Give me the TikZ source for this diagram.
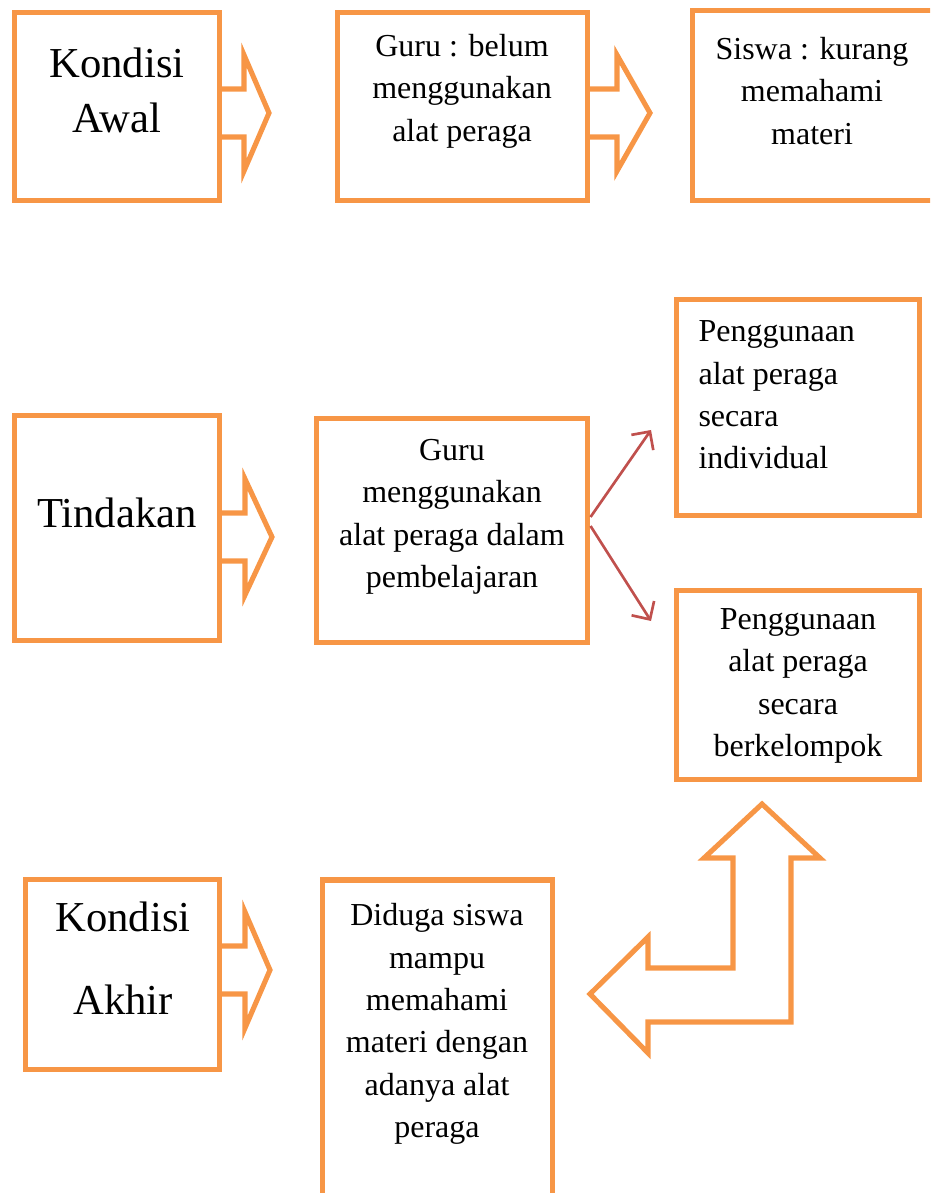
\documentclass[tikz,border=0pt]{standalone}
\usepackage{fontspec}
\setmainfont{Liberation Serif}
\usetikzlibrary{arrows.meta,calc}
\definecolor{bOrange}{HTML}{F79646}
\definecolor{bRed}{HTML}{C0504D}
\tikzset{
  box/.style={draw=bOrange, line width=1.9pt, inner sep=0pt},
  blockarrow/.style={draw=bOrange, line width=1.9pt, line join=miter},
  smalltxt/.style={font=\fontsize{12}{15.9}\selectfont, align=center, inner sep=0pt},
  bigtxt/.style={font=\fontsize{16}{20.6}\selectfont, align=center, inner sep=0pt},
  thinarrow/.style={draw=bRed, line width=1pt, -{Straight Barb[length=5pt,width=10pt]}},
}
\begin{document}
\begin{tikzpicture}[x=0.375pt, y=-0.375pt]
  \useasboundingbox (0,0) rectangle (930,1193);
  \clip (0,0) rectangle (930,1193);

  % boxes
  \node[box, minimum width={205*0.375pt}, minimum height={188*0.375pt}] (awal) at (117,106.5) {};
  \node[box, minimum width={250*0.375pt}, minimum height={188*0.375pt}] (belum) at (462.5,106.5) {};
  \node[box, minimum width={247.5*0.375pt}, minimum height={190*0.375pt}] (siswa) at (816,105.5) {};
  \node[box, minimum width={205*0.375pt}, minimum height={225*0.375pt}] (tindakan) at (117,528) {};
  \node[box, minimum width={271*0.375pt}, minimum height={224*0.375pt}] (guru) at (452,530.5) {};
  \node[box, minimum width={243*0.375pt}, minimum height={216*0.375pt}] (indiv) at (798,407.5) {};
  \node[box, minimum width={243*0.375pt}, minimum height={189*0.375pt}] (kelompok) at (798,685) {};
  \node[box, minimum width={194*0.375pt}, minimum height={190*0.375pt}] (akhir) at (122.5,974.5) {};
  \node[box, minimum width={230*0.375pt}, minimum height={330*0.375pt}] (duga) at (437.5,1045) {};

  % texts
  \node[bigtxt] (awalTxt) at (117,90) {Kondisi\\Awal};
  \node[smalltxt] (belumTxt) at (462,91) {Guru : belum\\menggunakan\\alat peraga};
  \node[smalltxt] (siswaTxt) at (812,91) {Siswa : kurang\\memahami\\materi};
  \node[bigtxt] (tindakanTxt) at (117,513) {Tindakan};
  \node[smalltxt] (guruTxt) at (452,517) {Guru\\menggunakan\\alat peraga dalam\\pembelajaran};
  \node[smalltxt, align=left, anchor=west] (indivTxt) at (698,395) {Penggunaan\\alat peraga\\secara\\individual};
  \node[smalltxt] (kelompokTxt) at (798,686) {Penggunaan\\alat peraga\\secara\\berkelompok};
  \node[bigtxt, font=\fontsize{16}{31}\selectfont] (akhirTxt) at (123,958) {Kondisi\\Akhir};
  \node[smalltxt] (dugaTxt) at (437,1024) {Diduga siswa\\mampu\\memahami\\materi dengan\\adanya alat\\peraga};

  % block arrows
  \foreach \n/\y/\b/\t in {awal/113/244/269, belum/113/617/650, tindakan/537/245/272, akhir/970/245/270}
    \draw[blockarrow] (\n.east |- 0,\y-24) -- (\b,\y-24) -- (\b,\y-58) -- (\t,\y)
      -- (\b,\y+58) -- (\b,\y+24) -- (\n.east |- 0,\y+24);

  % split arrows
  \coordinate (upTip) at (651,430);
  \coordinate (dnTip) at (651,621);
  \draw[thinarrow] ($(guru.east)+(0.5,-13.5)$) -- (upTip);
  \draw[thinarrow] ($(guru.east)+(0.5,-4.5)$) -- (dnTip);

  % bent arrow
  \draw[blockarrow] (762,804) -- (820,858) -- (791,858) -- (791,1022) -- (648,1022)
    -- (648,1053) -- (590,994) -- (648,937) -- (648,968) -- (733,968) -- (733,858)
    -- (704,858) -- cycle;
\end{tikzpicture}
\end{document}
